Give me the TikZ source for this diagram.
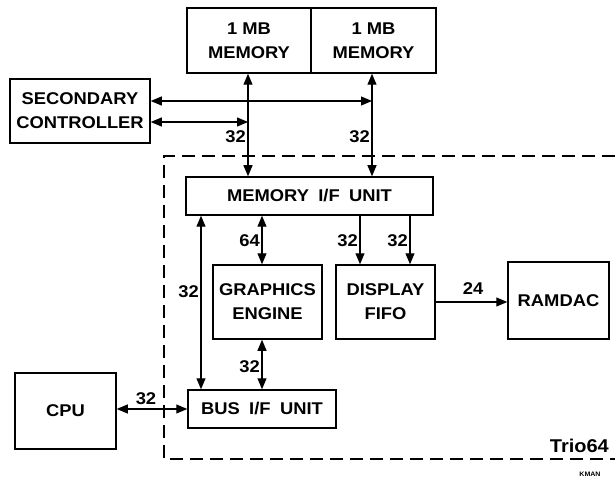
\documentclass[tikz,border=0pt]{standalone}
\usepackage{fontspec}
\newfontfamily\diag{Liberation Sans}[FakeStretch=1.08]
\usetikzlibrary{arrows.meta}
\tikzset{
  blk/.style={draw, line width=1.5pt, rectangle, inner sep=0pt, align=center,
    font=\diag\bfseries\fontsize{17}{24}\selectfont},
  lbl/.style={inner sep=1pt, font=\diag\bfseries\fontsize{17}{20}\selectfont},
  conn/.style={line width=1.1pt, -{Triangle[length=11pt,width=9pt]}},
  biconn/.style={line width=1.1pt, {Triangle[length=11pt,width=9pt]}-{Triangle[length=11pt,width=9pt]}},
  chip/.style={line width=1.3pt, dash pattern=on 13pt off 7pt}
}
\newcommand{\wsp}{\hspace{0.55em}}
\begin{document}
\begin{tikzpicture}[x=1pt,y=-1pt]
\useasboundingbox (0,0) rectangle (615,478);
% chip outline
\draw[chip] (615,156) -- (164,156) -- (164,459) -- (615,459);
% blocks
\node[blk, minimum width=124, minimum height=65] (mem1) at (249,40.5) {1 MB\\MEMORY};
\node[blk, minimum width=125, minimum height=65] (mem2) at (373.5,40.5) {1 MB\\MEMORY};
\node[blk, minimum width=140, minimum height=64] (sec) at (80,111) {SECONDARY\\CONTROLLER};
\node[blk, minimum width=247, minimum height=38] (memif) at (309.5,196) {MEMORY\wsp I/F\wsp UNIT};
\node[blk, minimum width=109, minimum height=74] (ge) at (267.5,302) {GRAPHICS\\ENGINE};
\node[blk, minimum width=99, minimum height=74] (fifo) at (385.5,302) {DISPLAY\\FIFO};
\node[blk, minimum width=101, minimum height=77] (ramdac) at (558.5,300.5) {RAMDAC};
\node[blk, minimum width=101, minimum height=76] (cpu) at (65.5,411) {CPU};
\node[blk, minimum width=148, minimum height=38] (busif) at (262,409) {BUS\wsp I/F\wsp UNIT};
% helper x positions
\coordinate (xM1) at (248,0);
\coordinate (xM2) at (372,0);
\coordinate (xL) at (201,0);
\coordinate (xG) at (262,0);
\coordinate (xF1) at (360,0);
\coordinate (xF2) at (410,0);
% memory buses
\draw[biconn] (mem1.south -| xM1) -- (memif.north -| xM1);
\draw[biconn] (mem2.south -| xM2) -- (memif.north -| xM2);
\draw[biconn] ([yshift=10pt]sec.east) -- ([yshift=10pt]sec.east -| xM2);
\draw[biconn] ([yshift=-11pt]sec.east) -- ([yshift=-11pt]sec.east -| xM1);
\node[lbl, anchor=east] (l1) at (247,137) {32};
\node[lbl, anchor=east] (l2) at (371,137) {32};
% internal
\draw[biconn] (memif.south -| xL) -- (busif.north -| xL);
\node[lbl, anchor=east] (l3) at (200,292) {32};
\draw[biconn] (memif.south -| xG) -- (ge.north -| xG);
\node[lbl, anchor=east] (l4) at (261,241) {64};
\draw[biconn] (ge.south -| xG) -- (busif.north -| xG);
\node[lbl, anchor=east] (l5) at (261,367) {32};
\draw[conn] (memif.south -| xF1) -- (fifo.north -| xF1);
\node[lbl, anchor=east] (l6) at (359,241) {32};
\draw[conn] (memif.south -| xF2) -- (fifo.north -| xF2);
\node[lbl, anchor=east] (l7) at (409,241) {32};
\draw[conn] (fifo.east) -- (fifo.east -| ramdac.west);
\node[lbl] (l8) at (473,289) {24};
\draw[biconn] (busif.west -| cpu.east) -- (busif.west);
\node[lbl] (l9) at (146,399) {32};
% captions
\node[lbl, anchor=east, font=\diag\bfseries\fontsize{18.5}{20}\selectfont] (trio) at (610,446) {Trio64};
\node[inner sep=0pt, font=\diag\bfseries\fontsize{6.5}{7}\selectfont] (kman) at (590,474) {KMAN};
\end{tikzpicture}
\end{document}
